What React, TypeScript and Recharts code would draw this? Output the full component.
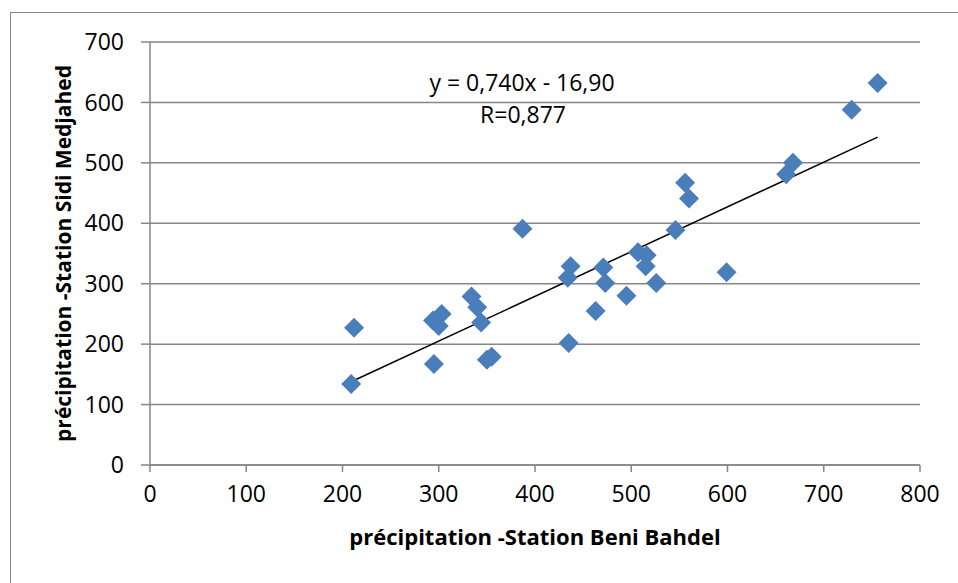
import {
  ScatterChart,
  Scatter,
  XAxis,
  YAxis,
  CartesianGrid,
  ReferenceLine,
  Label,
} from "recharts";

// précipitation (mm) — Beni Bahdel (x) vs Sidi Medjahed (y)
const beniBahdel = [
  209, 212, 295, 294, 303, 300, 334, 340, 344, 350, 355, 387, 435, 434, 437, 463,
  471, 473, 495, 507, 516, 515, 526, 546, 556, 560, 599, 661, 668, 729, 756,
];
const sidiMedjahed = [
  134, 227, 167, 239, 250, 230, 279, 261, 236, 174, 179, 391, 202, 310, 329, 255,
  327, 301, 280, 352, 347, 329, 301, 389, 467, 441, 319, 481, 500, 588, 632,
];

const xTicks = [0, 100, 200, 300, 400, 500, 600, 700, 800];
const yTicks = [0, 100, 200, 300, 400, 500, 600, 700];

// trend line coefficients
const slope = 0.74;
const intercept = -16.9;

const points = beniBahdel.map((x, i) => ({ x, y: sidiMedjahed[i] }));
const xMin = Math.min(...beniBahdel);
const xMax = Math.max(...beniBahdel);
const trendSegment = [
  { x: xMin, y: slope * xMin + intercept },
  { x: xMax, y: slope * xMax + intercept },
];

const FONT = "'Open Sans', sans-serif";
const GRID = "#868686";

const Diamond = (props: any) => {
  const { cx, cy } = props;
  const r = 10;
  return (
    <polygon
      points={`${cx},${cy - r} ${cx + r},${cy} ${cx},${cy + r} ${cx - r},${cy}`}
      fill="#4A7EBB"
    />
  );
};

const YTitle = ({ viewBox }: any) => {
  const cy = viewBox.y + viewBox.height / 2;
  return (
    <text
      x={63}
      y={cy}
      transform={`rotate(-90, 63, ${cy})`}
      textAnchor="middle"
      dominantBaseline="central"
      fontFamily={FONT}
      fontWeight="bold"
      fontSize={21}
      fill="#000"
    >
      précipitation -Station Sidi Medjahed
    </text>
  );
};

const App = () => {
  return (
    <div style={{ position: "absolute", left: 0, top: 0, width: 958, height: 583, background: "#fff" }}>
      <div
        style={{
          position: "absolute",
          left: 10,
          top: 12,
          width: 960,
          height: 590,
          borderLeft: `1px solid ${GRID}`,
          borderTop: `1px solid ${GRID}`,
        }}
      />
      <ScatterChart
        width={958}
        height={583}
        margin={{ top: 42, right: 38, left: 90, bottom: 88 }}
        style={{ position: "absolute", left: 0, top: 0 }}
      >
        <CartesianGrid horizontal vertical={false} stroke={GRID} strokeWidth={1.5} />
        <XAxis
          type="number"
          dataKey="x"
          domain={[0, 800]}
          ticks={xTicks}
          interval={0}
          height={30}
          tickSize={7}
          tickMargin={14}
          axisLine={{ stroke: GRID, strokeWidth: 1.5 }}
          tickLine={{ stroke: GRID, strokeWidth: 1.5 }}
          tick={{ fill: "#000", fontSize: 23, fontFamily: FONT }}
        >
          <Label
            value="précipitation -Station Beni Bahdel"
            position="bottom"
            offset={34}
            fill="#000"
            fontFamily={FONT}
            fontWeight="bold"
            fontSize={22}
          />
        </XAxis>
        <YAxis
          type="number"
          dataKey="y"
          domain={[0, 700]}
          ticks={yTicks}
          interval={0}
          width={60}
          tickSize={9}
          tickMargin={17}
          axisLine={{ stroke: GRID, strokeWidth: 1.5 }}
          tickLine={{ stroke: GRID, strokeWidth: 1.5 }}
          tick={{ fill: "#000", fontSize: 23, fontFamily: FONT }}
        >
          <Label content={<YTitle />} />
        </YAxis>
        <ReferenceLine segment={trendSegment} stroke="#000" strokeWidth={1.5} />
        <Scatter data={points} shape={<Diamond />} isAnimationActive={false} />
        <text x={522} y={82} textAnchor="middle" dominantBaseline="central" fontFamily={FONT} fontSize={23} fill="#000">
          y = 0,740x - 16,90
        </text>
        <text x={523} y={114} textAnchor="middle" dominantBaseline="central" fontFamily={FONT} fontSize={23} fill="#000">
          R=0,877
        </text>
      </ScatterChart>
    </div>
  );
};

export default App;
